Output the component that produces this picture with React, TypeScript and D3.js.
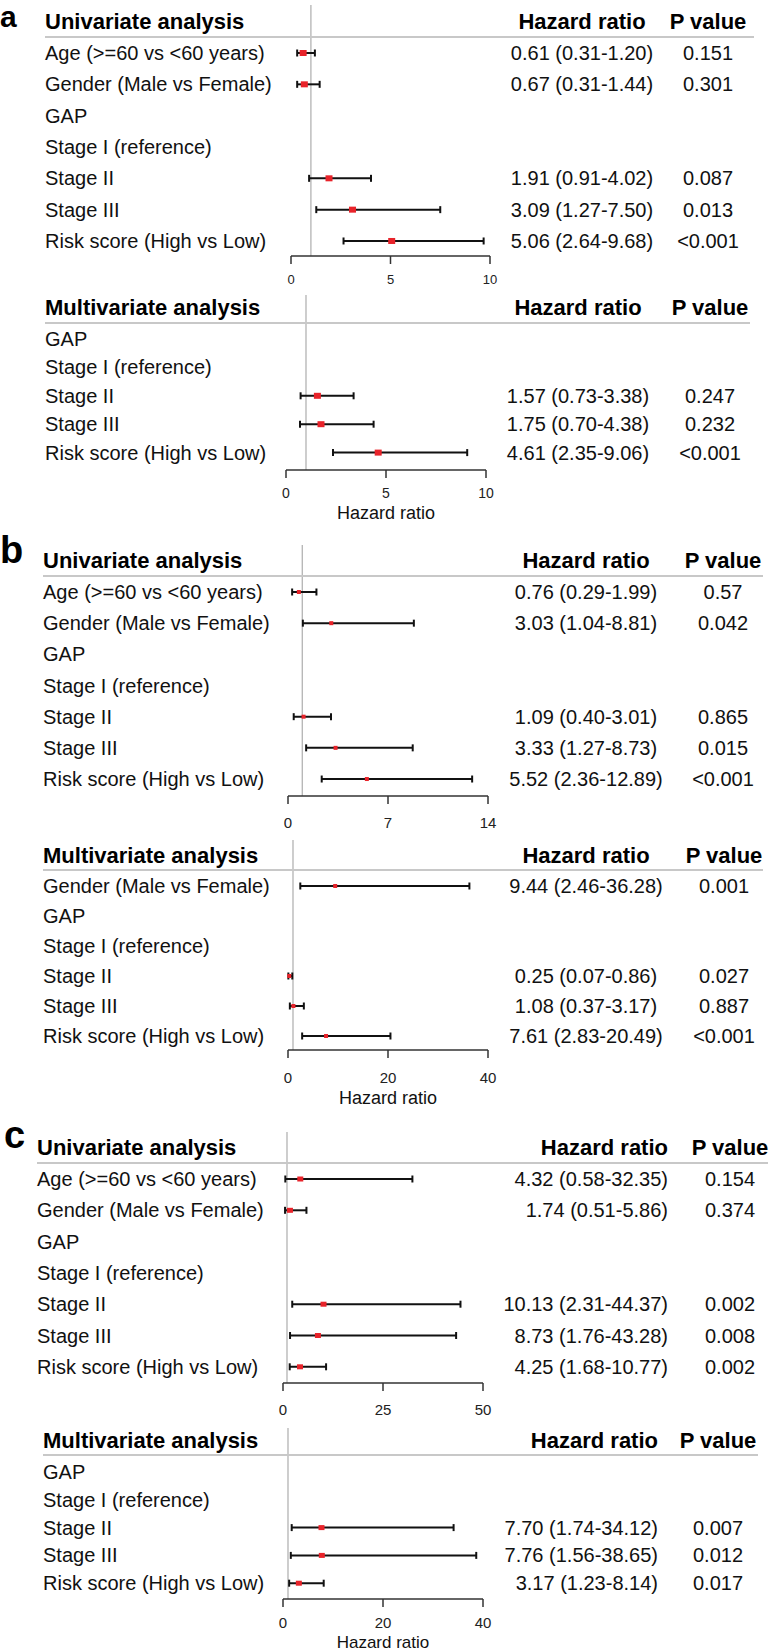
import React from "react";
import * as d3 from "d3";

// ---------- DATA ----------
const aUniLabels = ["Age (>=60 vs <60 years)", "Gender (Male vs Female)", "GAP", "Stage I (reference)", "Stage II", "Stage III", "Risk score (High vs Low)"];
const aUniHR = [0.61, 0.67, null, null, 1.91, 3.09, 5.06];
const aUniLo = [0.31, 0.31, null, null, 0.91, 1.27, 2.64];
const aUniHi = [1.20, 1.44, null, null, 4.02, 7.50, 9.68];
const aUniP = ["0.151", "0.301", "", "", "0.087", "0.013", "<0.001"];
const aUniTicks = [0, 5, 10];

const aMulLabels = ["GAP", "Stage I (reference)", "Stage II", "Stage III", "Risk score (High vs Low)"];
const aMulHR = [null, null, 1.57, 1.75, 4.61];
const aMulLo = [null, null, 0.73, 0.70, 2.35];
const aMulHi = [null, null, 3.38, 4.38, 9.06];
const aMulP = ["", "", "0.247", "0.232", "<0.001"];
const aMulTicks = [0, 5, 10];

const bUniLabels = ["Age (>=60 vs <60 years)", "Gender (Male vs Female)", "GAP", "Stage I (reference)", "Stage II", "Stage III", "Risk score (High vs Low)"];
const bUniHR = [0.76, 3.03, null, null, 1.09, 3.33, 5.52];
const bUniLo = [0.29, 1.04, null, null, 0.40, 1.27, 2.36];
const bUniHi = [1.99, 8.81, null, null, 3.01, 8.73, 12.89];
const bUniP = ["0.57", "0.042", "", "", "0.865", "0.015", "<0.001"];
const bUniTicks = [0, 7, 14];

const bMulLabels = ["Gender (Male vs Female)", "GAP", "Stage I (reference)", "Stage II", "Stage III", "Risk score (High vs Low)"];
const bMulHR = [9.44, null, null, 0.25, 1.08, 7.61];
const bMulLo = [2.46, null, null, 0.07, 0.37, 2.83];
const bMulHi = [36.28, null, null, 0.86, 3.17, 20.49];
const bMulP = ["0.001", "", "", "0.027", "0.887", "<0.001"];
const bMulTicks = [0, 20, 40];

const cUniLabels = ["Age (>=60 vs <60 years)", "Gender (Male vs Female)", "GAP", "Stage I (reference)", "Stage II", "Stage III", "Risk score (High vs Low)"];
const cUniHR = [4.32, 1.74, null, null, 10.13, 8.73, 4.25];
const cUniLo = [0.58, 0.51, null, null, 2.31, 1.76, 1.68];
const cUniHi = [32.35, 5.86, null, null, 44.37, 43.28, 10.77];
const cUniP = ["0.154", "0.374", "", "", "0.002", "0.008", "0.002"];
const cUniTicks = [0, 25, 50];

const cMulLabels = ["GAP", "Stage I (reference)", "Stage II", "Stage III", "Risk score (High vs Low)"];
const cMulHR = [null, null, 7.70, 7.76, 3.17];
const cMulLo = [null, null, 1.74, 1.56, 1.23];
const cMulHi = [null, null, 34.12, 38.65, 8.14];
const cMulP = ["", "", "0.007", "0.012", "0.017"];
const cMulTicks = [0, 20, 40];

// ---------- LAYOUT ----------
const FONT = "'Liberation Sans', Arial, Helvetica, sans-serif";

type Sec = {
  title: string;
  labels: string[]; hr: (number | null)[]; lo: (number | null)[]; hi: (number | null)[]; p: string[]; ticks: number[];
  labelX: number; headBase: number; lineY: number; lineX2: number;
  row0: number; step: number; axisY: number; xr: [number, number];
  tickBase: number; tickFont: number; refTop: number;
  hrX: number; hrAnchor: "middle" | "end"; pX: number;
  axisTitleBase?: number; axisTitleFont?: number; mw: number; mh: number;
};

const sections: Sec[] = [
  { title: "Univariate analysis", labels: aUniLabels, hr: aUniHR, lo: aUniLo, hi: aUniHi, p: aUniP, ticks: aUniTicks,
    labelX: 45, headBase: 29, lineY: 37, lineX2: 754, row0: 53, step: 31.33, axisY: 256, xr: [291, 490],
    tickBase: 284, tickFont: 13, refTop: 5, hrX: 582, hrAnchor: "middle", pX: 708, mw: 7, mh: 6 },
  { title: "Multivariate analysis", labels: aMulLabels, hr: aMulHR, lo: aMulLo, hi: aMulHi, p: aMulP, ticks: aMulTicks,
    labelX: 45, headBase: 315, lineY: 323, lineX2: 750, row0: 339, step: 28.4, axisY: 470, xr: [286, 486],
    tickBase: 498, tickFont: 14, refTop: 295, hrX: 578, hrAnchor: "middle", pX: 710, axisTitleBase: 519, axisTitleFont: 18, mw: 7, mh: 6 },
  { title: "Univariate analysis", labels: bUniLabels, hr: bUniHR, lo: bUniLo, hi: bUniHi, p: bUniP, ticks: bUniTicks,
    labelX: 43, headBase: 568, lineY: 576, lineX2: 763, row0: 592, step: 31.17, axisY: 796, xr: [288, 488],
    tickBase: 828, tickFont: 15, refTop: 545, hrX: 586, hrAnchor: "middle", pX: 723, mw: 4, mh: 4 },
  { title: "Multivariate analysis", labels: bMulLabels, hr: bMulHR, lo: bMulLo, hi: bMulHi, p: bMulP, ticks: bMulTicks,
    labelX: 43, headBase: 863, lineY: 870, lineX2: 763, row0: 886, step: 30, axisY: 1050, xr: [288, 488],
    tickBase: 1083, tickFont: 15, refTop: 840, hrX: 586, hrAnchor: "middle", pX: 724, axisTitleBase: 1104, axisTitleFont: 18, mw: 4, mh: 4 },
  { title: "Univariate analysis", labels: cUniLabels, hr: cUniHR, lo: cUniLo, hi: cUniHi, p: cUniP, ticks: cUniTicks,
    labelX: 37, headBase: 1155, lineY: 1163, lineX2: 768, row0: 1179, step: 31.3, axisY: 1383, xr: [283, 483],
    tickBase: 1415, tickFont: 15, refTop: 1132, hrX: 668, hrAnchor: "end", pX: 730, mw: 6, mh: 5 },
  { title: "Multivariate analysis", labels: cMulLabels, hr: cMulHR, lo: cMulLo, hi: cMulHi, p: cMulP, ticks: cMulTicks,
    labelX: 43, headBase: 1448, lineY: 1455, lineX2: 758, row0: 1472, step: 27.8, axisY: 1599, xr: [283, 483],
    tickBase: 1628, tickFont: 15, refTop: 1428, hrX: 658, hrAnchor: "end", pX: 718, axisTitleBase: 1648, axisTitleFont: 17, mw: 6, mh: 5 },
];

const panelLetters = [
  { t: "a", x: 0, y: 27, size: 30 },
  { t: "b", x: 0, y: 563, size: 38 },
  { t: "c", x: 4, y: 1148, size: 38 },
];

const fmt = (v: number) => v.toFixed(2);

function Section({ s }: { s: Sec }) {
  const x = d3.scaleLinear().domain([s.ticks[0], s.ticks[s.ticks.length - 1]]).range(s.xr);
  const y = d3.scaleLinear().domain([0, 1]).range([s.row0, s.row0 + s.step]);
  const cap = 3.5;
  return (
    <g>
      <line x1={x(1)} x2={x(1)} y1={s.refTop} y2={s.axisY} stroke="#b3b3b3" strokeWidth={1.3} />
      <text x={s.labelX} y={s.headBase} fontSize={22} fontWeight="bold" fill="#000">{s.title}</text>
      <text x={s.hrX} y={s.headBase} fontSize={22} fontWeight="bold" textAnchor={s.hrAnchor} fill="#000">Hazard ratio</text>
      <text x={s.pX} y={s.headBase} fontSize={22} fontWeight="bold" textAnchor="middle" fill="#000">P value</text>
      <line x1={s.labelX} x2={s.lineX2} y1={s.lineY} y2={s.lineY} stroke="#c8c8c8" strokeWidth={2} />
      {s.labels.map((lab, i) => {
        const yy = y(i);
        const h = s.hr[i], lo = s.lo[i], hi = s.hi[i];
        return (
          <g key={i}>
            <text x={s.labelX} y={yy + 7} fontSize={20} fill="#111">{lab}</text>
            {h != null && lo != null && hi != null && (
              <g>
                <line x1={x(lo)} x2={x(hi)} y1={yy} y2={yy} stroke="#111" strokeWidth={2} />
                <line x1={x(lo)} x2={x(lo)} y1={yy - cap} y2={yy + cap} stroke="#111" strokeWidth={2} />
                <line x1={x(hi)} x2={x(hi)} y1={yy - cap} y2={yy + cap} stroke="#111" strokeWidth={2} />
                <rect x={x(h) - s.mw / 2} y={yy - s.mh / 2} width={s.mw} height={s.mh} fill="#e8232a" />
                <text x={s.hrX} y={yy + 7} fontSize={20} textAnchor={s.hrAnchor} fill="#111">
                  {`${fmt(h)} (${fmt(lo)}-${fmt(hi)})`}
                </text>
              </g>
            )}
            {s.p[i] && (
              <text x={s.pX} y={yy + 7} fontSize={20} textAnchor="middle" fill="#111">{s.p[i]}</text>
            )}
          </g>
        );
      })}
      <line x1={s.xr[0]} x2={s.xr[1]} y1={s.axisY} y2={s.axisY} stroke="#333" strokeWidth={1.5} />
      {s.ticks.map((t) => (
        <g key={t}>
          <line x1={x(t)} x2={x(t)} y1={s.axisY} y2={s.axisY + 8} stroke="#333" strokeWidth={1.5} />
          <text x={x(t)} y={s.tickBase} fontSize={s.tickFont} textAnchor="middle" fill="#222">{t}</text>
        </g>
      ))}
      {s.axisTitleBase != null && (
        <text x={(s.xr[0] + s.xr[1]) / 2} y={s.axisTitleBase} fontSize={s.axisTitleFont} textAnchor="middle" fill="#111">Hazard ratio</text>
      )}
    </g>
  );
}

export default function App() {
  return (
    <div style={{ position: "absolute", left: 0, top: 0, width: 770, height: 1652, background: "#fff" }}>
      <svg width={770} height={1652} style={{ display: "block", fontFamily: FONT }}>
        <rect width={770} height={1652} fill="#fff" />
        {panelLetters.map((p) => (
          <text key={p.t} x={p.x} y={p.y} fontSize={p.size} fontWeight="bold" fill="#000">{p.t}</text>
        ))}
        {sections.map((s, i) => <Section key={i} s={s} />)}
      </svg>
    </div>
  );
}
